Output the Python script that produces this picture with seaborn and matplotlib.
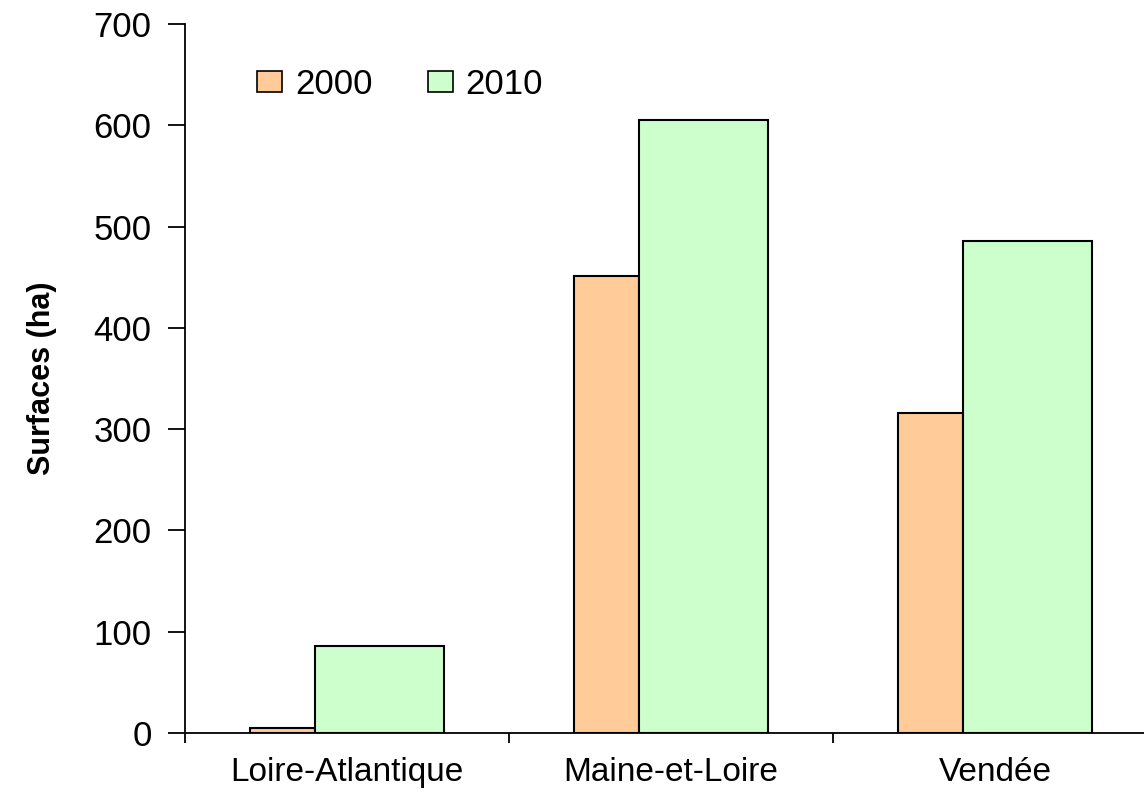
import pandas as pd
import matplotlib.pyplot as plt
import seaborn as sns
from matplotlib.patches import Patch

sns.set_style('white')
plt.rcParams['font.family'] = ['Liberation Sans', 'DejaVu Sans']
plt.rcParams['text.color'] = 'black'
plt.rcParams['xtick.color'] = 'black'
plt.rcParams['ytick.color'] = 'black'
plt.rcParams['axes.labelcolor'] = 'black'

# données (surfaces en ha)
departements = ['Loire-Atlantique', 'Maine-et-Loire', 'Vendée']
annees = ['2000', '2010']
surf_2000 = [5, 451, 316]
surf_2010 = [86, 605, 486]
couleurs = {'2000': '#FFCC99', '2010': '#CCFFCC'}

df = pd.DataFrame({
    'Département': departements * 2,
    'Année': [annees[0]] * 3 + [annees[1]] * 3,
    'Surface': surf_2000 + surf_2010,
})

fig = plt.figure(figsize=(11.44, 7.98), dpi=100)
ax = fig.add_axes([0.1617, 0.0815, 0.8497, 0.8885])

sns.barplot(data=df, x='Département', y='Surface', hue='Année',
            palette=couleurs, saturation=1, width=0.6, edgecolor='black',
            linewidth=1.5, errorbar=None, legend=False, ax=ax)

# barres 2000 plus étroites, 2010 plus larges (comme l'original)
for p in ax.patches[:3]:
    p.set_width(0.2)
for p in ax.patches[3:6]:
    p.set_x(p.get_x() - 0.1)
    p.set_width(0.4)

ax.set_xlim(-0.5, 2.5)
ax.set_ylim(0, 700)
ax.set_yticks(range(0, 701, 100))

# graduations aux limites des catégories, libellés au centre
ax.set_xticks([-0.5, 0.5, 1.5, 2.5])
ax.set_xticklabels([])
ax.set_xticks([0, 1, 2], minor=True)
ax.set_xticklabels(departements, minor=True)
ax.tick_params(axis='x', which='major', direction='out', length=7, width=1.3)
ax.tick_params(axis='x', which='minor', length=0, pad=17, labelsize=24)
ax.tick_params(axis='y', direction='out', length=12, width=1.3, labelsize=25, pad=12)
ax.tick_params(left=True, bottom=True)

for s in ['top', 'right']:
    ax.spines[s].set_visible(False)
for s in ['left', 'bottom']:
    ax.spines[s].set_color('black')
    ax.spines[s].set_linewidth(1.3)

ax.set_xlabel('')
ax.set_ylabel('Surfaces (ha)', fontsize=22, fontweight='bold', labelpad=26)

handles = [Patch(facecolor=couleurs[a], edgecolor='black', linewidth=1.2, label=a) for a in annees]
ax.legend(handles=handles, ncol=2, frameon=False, fontsize=25,
          loc='center left', bbox_to_anchor=(0.074, 0.915),
          borderaxespad=0, borderpad=0,
          handlelength=0.72, handleheight=0.55, handletextpad=0.37, columnspacing=1.6)

plt.savefig('out.png', dpi=100, facecolor='white')
